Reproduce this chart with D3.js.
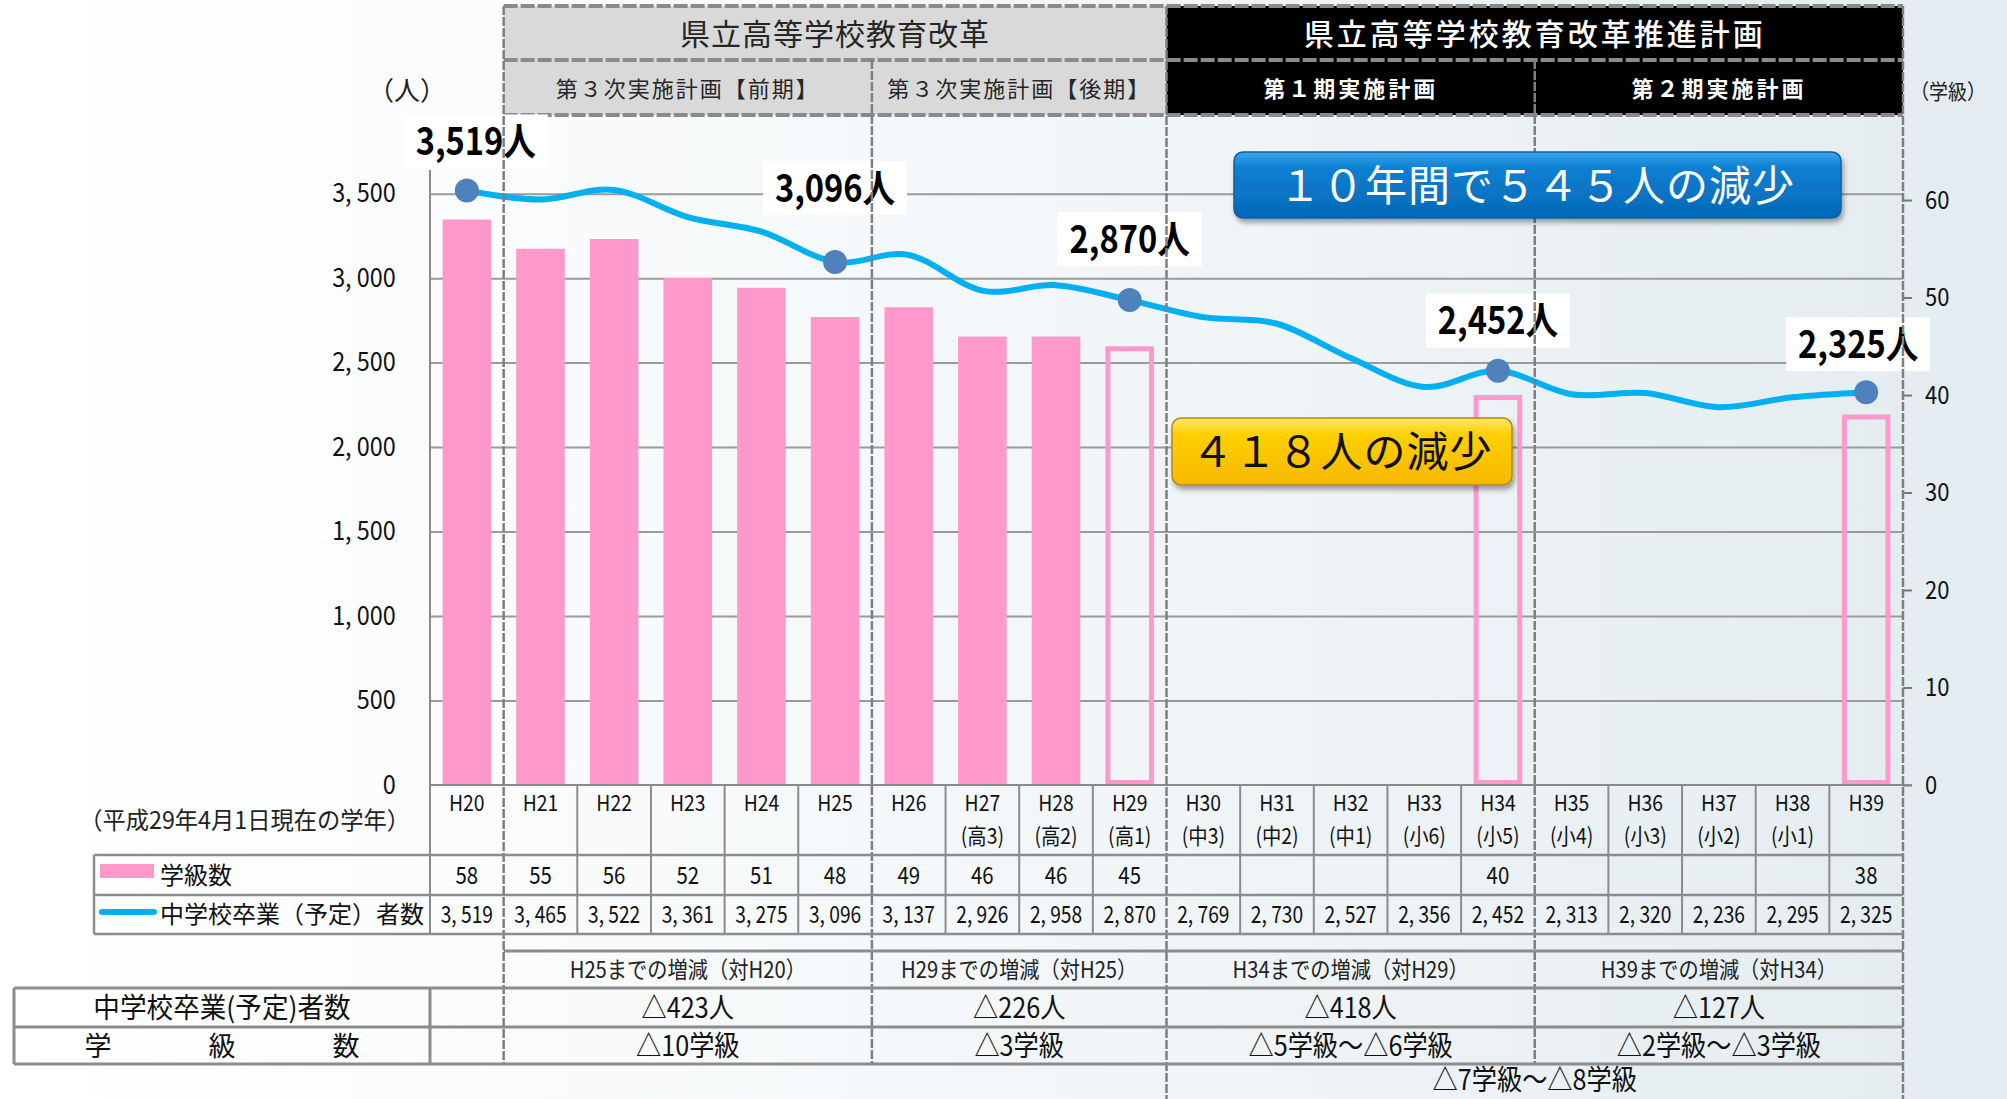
<!DOCTYPE html>
<html>
<head>
<meta charset="utf-8">
<title>県立高等学校教育改革 中学校卒業者数と学級数</title>
<script src="https://d3js.org/d3.v7.min.js"></script>
<style>
  body { margin: 0; background: #fff; }
  svg { display: block; font-family: "Noto Sans CJK JP", "Noto Sans", sans-serif; }
</style>
</head>
<body>
<script>
// school years on the x axis, and the grade each cohort is in (as of H29.4.1)
var years = ["H20","H21","H22","H23","H24","H25","H26","H27","H28","H29",
             "H30","H31","H32","H33","H34","H35","H36","H37","H38","H39"];
var grades = ["","","","","","","","(高3)","(高2)","(高1)",
              "(中3)","(中2)","(中1)","(小6)","(小5)","(小4)","(小3)","(小2)","(小1)",""];

// junior high graduates (people) -> line, left axis
var graduates = [3519,3465,3522,3361,3275,3096,3137,2926,2958,2870,
                 2769,2730,2527,2356,2452,2313,2320,2236,2295,2325];
// number of classes -> bars, right axis (null = no figure)
var classes = [58,55,56,52,51,48,49,46,46,45,
               null,null,null,null,40,null,null,null,null,38];
var plannedYears = ["H29","H34","H39"];        // drawn as hollow bars
var labelledYears = ["H20","H25","H29","H34","H39"];

var leftTicks = [0,500,1000,1500,2000,2500,3000,3500];
var rightTicks = [0,10,20,30,40,50,60];

var reformTitles = ["県立高等学校教育改革","県立高等学校教育改革推進計画"];
var reformSpans = [["H21","H29"],["H30","H39"]];
var planTitles = ["第３次実施計画【前期】","第３次実施計画【後期】","第１期実施計画","第２期実施計画"];
var planSpans = [["H21","H25"],["H26","H29"],["H30","H34"],["H35","H39"]];

var changeHeads = ["H25までの増減（対H20）","H29までの増減（対H25）","H34までの増減（対H29）","H39までの増減（対H34）"];
var changePeople = ["△423人","△226人","△418人","△127人"];
var changeClasses = ["△10学級","△3学級","△5学級～△6学級","△2学級～△3学級"];
var totalChange = "△7学級～△8学級";
var callouts = ["１０年間で５４５人の減少","４１８人の減少"];

var W = 2007, H = 1099;
var pink = "#ff99cc", blue = "#00b0f0", dot = "#4f81bd", grid = "#9a9a9a", lineGray = "#8c8c8c";

var svg = d3.select("body").append("svg")
  .attr("width", W)
  .attr("height", H);

var defs = svg.append("defs");
var bg = defs.append("linearGradient").attr("id", "bg");
bg.append("stop").attr("offset", "0").attr("stop-color", "#ffffff");
bg.append("stop").attr("offset", "0.45").attr("stop-color", "#f5f8fa");
bg.append("stop").attr("offset", "1").attr("stop-color", "#e3ecf0");

var gBlue = defs.append("linearGradient").attr("id", "gblue").attr("x2", 0).attr("y2", 1);
gBlue.append("stop").attr("offset", "0").attr("stop-color", "#3aa6ec");
gBlue.append("stop").attr("offset", "0.25").attr("stop-color", "#0a7fd2");
gBlue.append("stop").attr("offset", "1").attr("stop-color", "#0568b6");

var gYel = defs.append("linearGradient").attr("id", "gyel").attr("x2", 0).attr("y2", 1);
gYel.append("stop").attr("offset", "0").attr("stop-color", "#ffe66a");
gYel.append("stop").attr("offset", "0.25").attr("stop-color", "#ffd000");
gYel.append("stop").attr("offset", "1").attr("stop-color", "#f5b800");

var shadow = defs.append("filter").attr("id", "shadow")
  .attr("x", "-10%").attr("y", "-20%").attr("width", "130%").attr("height", "160%");
shadow.append("feDropShadow").attr("dx", 2).attr("dy", 4).attr("stdDeviation", 2.5)
  .attr("flood-color", "#000").attr("flood-opacity", 0.35);

svg.append("rect").attr("width", W).attr("height", H).attr("fill", "url(#bg)");

// text helper, sx squeezes the glyphs sideways like the original condensed font
function addText(g, x, y, s, o) {
  o = o || {};
  return g.append("text")
    .attr("transform", "translate(" + x + "," + y + ") scale(" + (o.sx || 1) + ",1)")
    .attr("text-anchor", o.anchor || "middle")
    .attr("dy", "0.36em")
    .style("font-size", (o.size || 22) + "px")
    .style("font-weight", o.weight || 400)
    .style("letter-spacing", (o.ls || 0) + "px")
    .attr("fill", o.fill || "#111")
    .text(s);
}
function hline(g, x1, x2, y, o) {
  o = o || {};
  return g.append("line").attr("x1", x1).attr("x2", x2).attr("y1", y).attr("y2", y)
    .attr("stroke", o.stroke || lineGray).attr("stroke-width", o.w || 2)
    .attr("stroke-dasharray", o.dash || null);
}
function vline(g, x, y1, y2, o) {
  o = o || {};
  return g.append("line").attr("x1", x).attr("x2", x).attr("y1", y1).attr("y2", y2)
    .attr("stroke", o.stroke || lineGray).attr("stroke-width", o.w || 2)
    .attr("stroke-dasharray", o.dash || null);
}
function fmt(v) { return d3.format(",")(v).replace(",", ", "); }

// scales
var x = d3.scaleBand().domain(years).range([430, 1903]).padding(0);
var bw = x.bandwidth();
var yL = d3.scaleLinear().domain([0, 3640]).range([785, 170]);
var yR = d3.scaleLinear().domain([0, 63.08]).range([785, 170]);
function cx(yr) { return x(yr) + bw / 2; }
function right(yr) { return x(yr) + bw; }

// ---- header bands
var head = svg.append("g");
reformSpans.forEach(function(s, i) {
  var x0 = x(s[0]), x1 = right(s[1]);
  head.append("rect").attr("x", x0).attr("y", 6).attr("width", x1 - x0).attr("height", 54)
    .attr("fill", i === 0 ? "#d9d9d9" : "#000");
  addText(head, (x0 + x1) / 2, 34, reformTitles[i], {
    size: 30, ls: i === 0 ? 1 : 3, fill: i === 0 ? "#262626" : "#fff", weight: i === 0 ? 400 : 500
  });
});
planSpans.forEach(function(s, i) {
  var x0 = x(s[0]), x1 = right(s[1]);
  head.append("rect").attr("x", x0).attr("y", 60).attr("width", x1 - x0).attr("height", 55)
    .attr("fill", i < 2 ? "#d9d9d9" : "#000");
  addText(head, (x0 + x1) / 2, 89, planTitles[i], {
    size: 22, ls: i < 2 ? 2 : 3, fill: i < 2 ? "#262626" : "#fff", weight: i < 2 ? 400 : 700
  });
});
[6, 60, 115].forEach(function(y) {
  hline(head, x("H21"), right("H39"), y, { w: 4, stroke: "#8a8a8a", dash: "14,3" });
});

// ---- gridlines and axes
var plot = svg.append("g");
plot.append("g")
  .attr("transform", "translate(430,0)")
  .call(d3.axisLeft(yL).tickValues(leftTicks.slice(1)).tickSize(-(1903 - 430)).tickFormat(""))
  .call(function(g) {
    g.select(".domain").remove();
    g.selectAll("line").attr("stroke", grid).attr("stroke-width", 2);
  });

plot.append("g")
  .attr("transform", "translate(430,0)")
  .call(d3.axisLeft(yL).tickValues(leftTicks).tickSize(0).tickPadding(38).tickFormat(fmt))
  .call(function(g) {
    g.select(".domain").remove();
    g.selectAll("text")
      .attr("transform", "scale(0.9,1)")
      .style("font-size", "26px")
      .style("font-family", "\"Noto Sans CJK JP\", sans-serif")
      .attr("fill", "#111");
  });

plot.append("g")
  .attr("transform", "translate(1903,0)")
  .call(d3.axisRight(yR).tickValues(rightTicks).tickSize(9).tickPadding(16))
  .call(function(g) {
    g.select(".domain").remove();
    g.selectAll("line").attr("stroke", "#777").attr("stroke-width", 2);
    g.selectAll("text")
      .attr("transform", "scale(0.88,1)")
      .style("font-size", "25px")
      .style("font-family", "\"Noto Sans CJK JP\", sans-serif")
      .attr("fill", "#111");
  });

vline(plot, 430, 170, 934, { stroke: "#8a8a8a", w: 2 });

addText(svg, 407, 91, "（人）", { size: 26, fill: "#222" });
addText(svg, 1948, 91, "（学級）", { size: 21, fill: "#222", sx: 0.9 });

// ---- bars (classes, right axis)
var barW = bw * 0.66;
var barData = years.map(function(y, i) { return { year: y, v: classes[i] }; })
  .filter(function(d) { return d.v !== null; });
plot.selectAll(".bar").data(barData).enter().append("rect")
  .attr("class", "bar")
  .each(function(d) {
    var hollow = plannedYears.indexOf(d.year) >= 0;
    var sel = d3.select(this);
    if (hollow) {
      sel.attr("x", cx(d.year) - barW / 2 + 2.5).attr("y", yR(d.v) + 2.5)
        .attr("width", barW - 5).attr("height", yR(0) - yR(d.v) - 5)
        .attr("fill", "none").attr("stroke", pink).attr("stroke-width", 5);
    } else {
      sel.attr("x", cx(d.year) - barW / 2).attr("y", yR(d.v))
        .attr("width", barW).attr("height", yR(0) - yR(d.v))
        .attr("fill", pink);
    }
  });

// x axis baseline
hline(plot, 430, 1912, 785, { stroke: "#8a8a8a", w: 2 });

// ---- period boundaries (dashed) through header, plot and tables
var dash = { stroke: "#7f7f7f", w: 2.5, dash: "9,2" };
vline(svg, x("H21"), 6, 1064, dash);
vline(svg, x("H26"), 60, 1064, dash);
vline(svg, x("H30"), 6, 1099, dash);
vline(svg, x("H35"), 60, 1064, dash);
vline(svg, right("H39"), 6, 1099, dash);

// ---- graduates line (left axis)
var lineData = years.map(function(y, i) { return { year: y, v: graduates[i] }; });
plot.append("path")
  .datum(lineData)
  .attr("fill", "none")
  .attr("stroke", blue)
  .attr("stroke-width", 6)
  .attr("stroke-linecap", "round")
  .attr("d", d3.line()
    .x(function(d) { return cx(d.year); })
    .y(function(d) { return yL(d.v); })
    .curve(d3.curveCardinal.tension(0)));

var marked = lineData.filter(function(d) { return labelledYears.indexOf(d.year) >= 0; });
plot.selectAll(".dot").data(marked).enter().append("circle")
  .attr("class", "dot")
  .attr("cx", function(d) { return cx(d.year); })
  .attr("cy", function(d) { return yL(d.v); })
  .attr("r", 12)
  .attr("fill", dot);

// value labels in white boxes (nudge = box centre offset from the marker)
var nudge = [[9, -49], [0, -74], [0, -61], [0, -50], [-8, -48]];
marked.forEach(function(d, i) {
  var bx = cx(d.year) + nudge[i][0], by = yL(d.v) + nudge[i][1];
  plot.append("rect").attr("x", bx - 72).attr("y", by - 27).attr("width", 144).attr("height", 54)
    .attr("fill", "#fff");
  addText(plot, bx, by, d3.format(",")(d.v) + "人", { size: 38, weight: 700, sx: 0.86, fill: "#000" });
});

// ---- callouts
var cb = svg.append("g").attr("filter", "url(#shadow)");
cb.append("rect").attr("x", 1234).attr("y", 152).attr("width", 607).attr("height", 66)
  .attr("rx", 9).attr("fill", "url(#gblue)").attr("stroke", "#0b5fa5").attr("stroke-width", 1.5);
addText(svg, 1537, 186, callouts[0], { size: 42, fill: "#fff", ls: 1 });

var cy = svg.append("g").attr("filter", "url(#shadow)");
cy.append("rect").attr("x", 1172).attr("y", 418).attr("width", 340).attr("height", 67)
  .attr("rx", 9).attr("fill", "url(#gyel)").attr("stroke", "#b7861a").attr("stroke-width", 1.5);
addText(svg, 1342, 452, callouts[1], { size: 42, fill: "#111", ls: 1 });

// ---- category table under the chart
var tbl = svg.append("g");
years.forEach(function(y, i) {
  var bx = x(y);
  if (i > 0 && ["H21","H26","H30","H35"].indexOf(y) < 0) vline(tbl, bx, 785, 934);
  addText(tbl, cx(y), 803, y, { size: 22, sx: 0.88, fill: "#111" });
  if (grades[i]) addText(tbl, cx(y), 836, grades[i], { size: 22, sx: 0.88, fill: "#111" });
  if (classes[i] !== null) addText(tbl, cx(y), 875, classes[i], { size: 24, sx: 0.85, fill: "#111" });
  addText(tbl, cx(y), 914, fmt(graduates[i]), { size: 24, sx: 0.8, fill: "#111" });
});
[855, 895, 934].forEach(function(y) { hline(tbl, 94, 1903, y, { w: 2.5 }); });
vline(tbl, 94, 855, 934, { w: 2.5 });

addText(tbl, 410, 820, "（平成29年4月1日現在の学年）", { size: 24, sx: 0.97, anchor: "end", fill: "#222" });
tbl.append("rect").attr("x", 100).attr("y", 864).attr("width", 54).attr("height", 14).attr("fill", pink);
addText(tbl, 160, 875, "学級数", { size: 24, anchor: "start", fill: "#111" });
tbl.append("line").attr("x1", 102).attr("x2", 154).attr("y1", 912).attr("y2", 912)
  .attr("stroke", blue).attr("stroke-width", 6).attr("stroke-linecap", "round");
addText(tbl, 160, 914, "中学校卒業（予定）者数", { size: 24, anchor: "start", fill: "#111" });

// ---- change summary table
var sum = svg.append("g");
hline(sum, x("H21"), right("H39"), 951, { w: 3 });
[988, 1027, 1064].forEach(function(y) { hline(sum, 14, 1903, y, { w: 3 }); });
vline(sum, 14, 988, 1064, { w: 3 });
vline(sum, 430, 988, 1064, { w: 3 });
addText(sum, 222, 1008, "中学校卒業(予定)者数", { size: 28, sx: 0.95, fill: "#111" });
addText(sum, 224, 1046, "学　　　級　　　数", { size: 27, ls: 4, fill: "#111" });
planSpans.forEach(function(s, i) {
  var mid = (x(s[0]) + right(s[1])) / 2;
  addText(sum, mid, 970, changeHeads[i], { size: 23, sx: 0.88, fill: "#222" });
  addText(sum, mid, 1008, changePeople[i], { size: 28, sx: 0.9, fill: "#111" });
  addText(sum, mid, 1046, changeClasses[i], { size: 28, sx: 0.9, fill: "#111" });
});
addText(sum, (x("H30") + right("H39")) / 2, 1080, totalChange, { size: 28, sx: 0.9, fill: "#111" });

// page number, cut off at the bottom edge
addText(svg, 1952, 1118, "41", { size: 44, weight: 700, anchor: "start", fill: "#111" });
</script>
</body>
</html>
